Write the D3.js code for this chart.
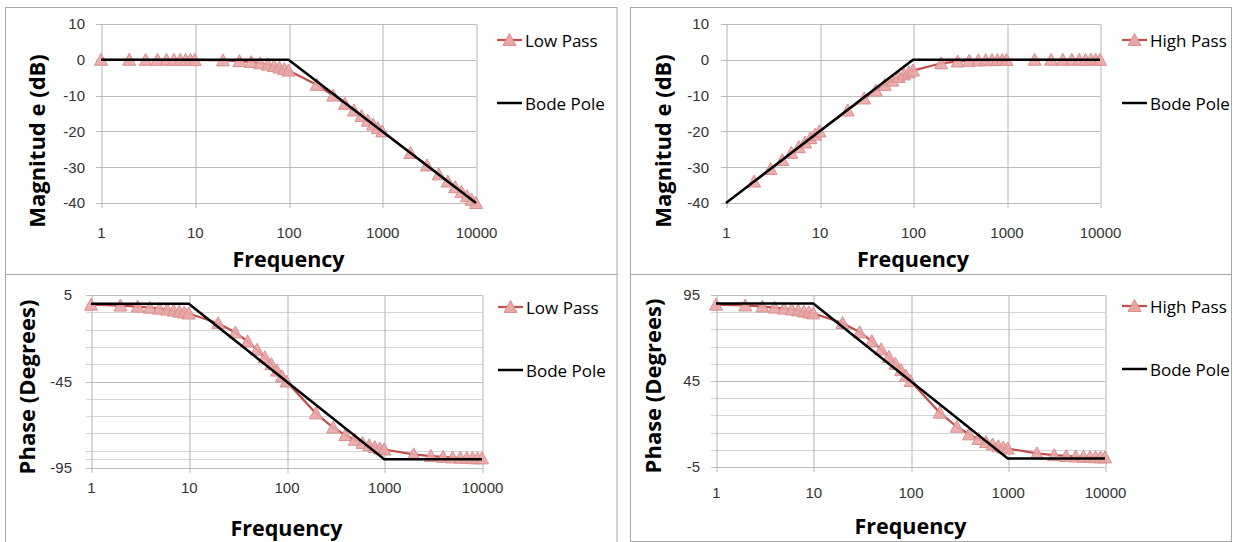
<!DOCTYPE html>
<html>
<head>
<meta charset="utf-8">
<script src="https://cdn.jsdelivr.net/npm/d3@7"></script>
<style>
  body { margin: 0; background: #fff; }
  svg { display: block; font-family: "Open Sans", sans-serif; }
</style>
</head>
<body>
<svg id="chart" width="1233" height="542"></svg>
<script>
// DATA
const freqs = [1, 2, 3, 4, 5, 6, 7, 8, 9, 10, 20, 30, 40, 50, 60, 70, 80, 90, 100,
  200, 300, 400, 500, 600, 700, 800, 900, 1000, 2000, 3000, 4000, 5000, 6000, 7000, 8000, 9000, 10000];

const lowPassMag = [0, 0, 0, 0, -0.01, -0.02, -0.02, -0.03, -0.04, -0.04,
  -0.17, -0.37, -0.64, -0.97, -1.34, -1.73, -2.15, -2.58, -3.01,
  -6.99, -10.0, -12.3, -14.15, -15.7, -17.0, -18.1, -19.1, -20.0,
  -26.0, -29.5, -32.0, -34.0, -35.6, -36.9, -38.1, -39.1, -40.0];

// high pass has no visible point at f = 1 (it sits under the -40 floor)
const highPassFreqs = freqs.slice(1);
const highPassMag = [-34.0, -30.5, -28.0, -26.0, -24.4, -23.1, -21.9, -20.9, -20.0,
  -14.15, -10.8, -8.6, -7.0, -5.8, -4.8, -4.1, -3.5, -3.0,
  -0.97, -0.46, -0.26, -0.17, -0.12, -0.09, -0.07, -0.05, -0.04,
  -0.01, 0, 0, 0, 0, 0, 0, 0, 0];

const lowPassPhase = [-0.6, -1.1, -1.7, -2.3, -2.9, -3.4, -4.0, -4.6, -5.1, -5.7,
  -11.3, -16.7, -21.8, -26.6, -31.0, -35.0, -38.7, -42.0, -45.0,
  -63.4, -71.6, -76.0, -78.7, -80.5, -81.9, -82.9, -83.7, -84.3,
  -87.1, -88.1, -88.6, -88.9, -89.0, -89.2, -89.3, -89.4, -89.4];

const highPassPhase = [89.4, 88.9, 88.3, 87.7, 87.1, 86.6, 86.0, 85.4, 84.9, 84.3,
  78.7, 73.3, 68.2, 63.4, 59.0, 55.0, 51.3, 48.0, 45.0,
  26.6, 18.4, 14.0, 11.3, 9.5, 8.1, 7.1, 6.3, 5.7,
  2.9, 1.9, 1.4, 1.1, 1.0, 0.8, 0.7, 0.6, 0.6];

const bodeMagFreqs = [1, 100, 10000];
const lowBodeMag = [0, 0, -40];
const highBodeMag = [-40, 0, 0];

const bodePhaseFreqs = [1, 10, 1000, 10000];
const lowBodePhase = [0, 0, -90, -90];
const highBodePhase = [90, 90, 0, 0];

const freqTicks = [1, 10, 100, 1000, 10000];
const magTicks = [10, 0, -10, -20, -30, -40];
const lowPhaseTicks = [5, -45, -95];
const highPhaseTicks = [95, 45, -5];
const lowPhaseGrid = [5, -5, -15, -25, -35, -45, -55, -65, -75, -85, -90, -95];
const highPhaseGrid = [95, 85, 75, 65, 55, 45, 35, 25, 15, 5, -5];

const zip = (xs, ys) => ys.map((v, i) => ({ f: xs[i], v: v }));

// PANELS
const panels = [
  {
    frame: [5.5, 7.5, 617, 274.5], xRange: [101, 476], yRange: [203, 24], yDomain: [-40, 10],
    yTicks: magTicks, grid: magTicks, yTitle: "Magnitud e (dB)", yTitleX: 36, yTitleY: 141,
    xPad: 19, yPad: 11, xTitleY: 258, legendX: 497, legendY: [40, 103], name: "Low Pass",
    series: zip(freqs, lowPassMag), bode: zip(bodeMagFreqs, lowBodeMag),
  },
  {
    frame: [630.5, 7.5, 1231.5, 274.5], xRange: [726, 1100], yRange: [203, 24], yDomain: [-40, 10],
    yTicks: magTicks, grid: magTicks, yTitle: "Magnitud e (dB)", yTitleX: 662, yTitleY: 141,
    xPad: 19, yPad: 12, xTitleY: 258, legendX: 1122, legendY: [40, 103], name: "High Pass",
    series: zip(highPassFreqs, highPassMag), bode: zip(bodeMagFreqs, highBodeMag),
  },
  {
    frame: [5.5, 274.5, 617, 560], xRange: [91, 482], yRange: [468, 295], yDomain: [-95, 5],
    yTicks: lowPhaseTicks, grid: lowPhaseGrid, yTitle: "Phase (Degrees)", yTitleX: 26, yTitleY: 387,
    xPad: 9.5, yPad: 14, xTitleY: 527, legendX: 498, legendY: [307, 370], name: "Low Pass",
    series: zip(freqs, lowPassPhase), bode: zip(bodePhaseFreqs, lowBodePhase),
  },
  {
    frame: [630.5, 274.5, 1231.5, 541.5], xRange: [716, 1105], yRange: [467, 295], yDomain: [-5, 95],
    yTicks: highPhaseTicks, grid: highPhaseGrid, yTitle: "Phase (Degrees)", yTitleX: 652, yTitleY: 386,
    xPad: 15.5, yPad: 11, xTitleY: 525, legendX: 1122, legendY: [306, 369], name: "High Pass",
    series: zip(freqs, highPassPhase), bode: zip(bodePhaseFreqs, highBodePhase),
  },
];

const svg = d3.select("#chart");
const RED = "#c0504d";
const triangle = "M0,-6.5L6.5,5.5L-6.5,5.5Z";

function drawPanel(p) {
  const g = svg.append("g");
  const x = d3.scaleLog().domain([1, 10000]).range(p.xRange);
  const y = d3.scaleLinear().domain(p.yDomain).range(p.yRange);
  const [x0, x1] = p.xRange;
  const [yb, yt] = p.yRange;

  // frame
  const [fx0, fy0, fx1, fy1] = p.frame;
  g.append("rect")
    .attr("x", fx0).attr("y", fy0)
    .attr("width", fx1 - fx0).attr("height", fy1 - fy0)
    .attr("fill", "none").attr("stroke", "#a6a6a6");

  // horizontal grid (with little ticks out to the left)
  g.append("g").selectAll("line").data(p.grid).join("line")
    .attr("x1", x0 - 5)
    .attr("x2", x1)
    .attr("y1", (d) => Math.round(y(d)) + 0.5)
    .attr("y2", (d) => Math.round(y(d)) + 0.5)
    .attr("stroke", (d) => (p.yTicks.includes(d) ? "#bdbdbd" : "#d4d4d4"))
    .attr("stroke-width", 1);

  // vertical grid + x labels
  const xAxis = g.append("g")
    .attr("transform", `translate(0,${yb + 5})`)
    .call(d3.axisBottom(x).tickValues(freqTicks).tickFormat(d3.format("d"))
      .tickSize(-(yb - yt + 5)).tickPadding(p.xPad));
  xAxis.select(".domain").remove();
  xAxis.selectAll(".tick line").attr("stroke", "#b3b3b3")
    .attr("transform", (d) => `translate(${(Math.round(x(d)) + 0.5) - x(d)},0)`);
  xAxis.selectAll(".tick text").attr("fill", "#333").attr("font-size", 15);

  // y labels
  const yAxis = g.append("g")
    .attr("transform", `translate(${x0 - 5},0)`)
    .call(d3.axisLeft(y).tickValues(p.yTicks).tickFormat((d) => String(d))
      .tickSize(0).tickPadding(p.yPad));
  yAxis.select(".domain").remove();
  yAxis.selectAll(".tick text").attr("fill", "#333").attr("font-size", 15);

  // titles
  g.append("text")
    .attr("x", (x0 + x1) / 2).attr("y", p.xTitleY)
    .attr("text-anchor", "middle").attr("dominant-baseline", "central")
    .attr("font-size", 21.5).attr("font-weight", "bold").attr("fill", "#000")
    .text("Frequency");
  g.append("text")
    .attr("transform", `translate(${p.yTitleX},${p.yTitleY}) rotate(-90)`)
    .attr("text-anchor", "middle").attr("dominant-baseline", "central")
    .attr("font-size", 22).attr("font-weight", "bold").attr("fill", "#000")
    .text(p.yTitle);

  // filter series
  const line = d3.line().x((d) => x(d.f)).y((d) => y(d.v));
  g.append("path").datum(p.series)
    .attr("d", line).attr("fill", "none")
    .attr("stroke", RED).attr("stroke-width", 2.25);
  g.append("g").selectAll("path").data(p.series).join("path")
    .attr("d", triangle)
    .attr("transform", (d) => `translate(${x(d.f)},${y(d.v)})`)
    .attr("fill", "#e8a6a5").attr("fill-opacity", 0.9)
    .attr("stroke", "#d98f8e").attr("stroke-width", 1);

  // bode asymptote
  g.append("path").datum(p.bode)
    .attr("d", line).attr("fill", "none")
    .attr("stroke", "#000").attr("stroke-width", 2.5);

  // legend
  const lg = g.append("g").attr("transform", `translate(${p.legendX},0)`);
  const l1 = lg.append("g").attr("transform", `translate(0,${p.legendY[0]})`);
  l1.append("line").attr("x1", 0).attr("x2", 25).attr("stroke", RED).attr("stroke-width", 2.25);
  l1.append("path").attr("d", triangle).attr("transform", "translate(12.5,0)")
    .attr("fill", "#e8a6a5").attr("stroke", "#d98f8e");
  l1.append("text").attr("x", 28).attr("dominant-baseline", "central")
    .attr("font-size", 17).attr("fill", "#000").text(p.name);
  const l2 = lg.append("g").attr("transform", `translate(0,${p.legendY[1]})`);
  l2.append("line").attr("x1", 0).attr("x2", 25).attr("stroke", "#000").attr("stroke-width", 2.5);
  l2.append("text").attr("x", 28).attr("dominant-baseline", "central")
    .attr("font-size", 17).attr("fill", "#000").text("Bode Pole");
}

panels.forEach(drawPanel);
</script>
</body>
</html>
